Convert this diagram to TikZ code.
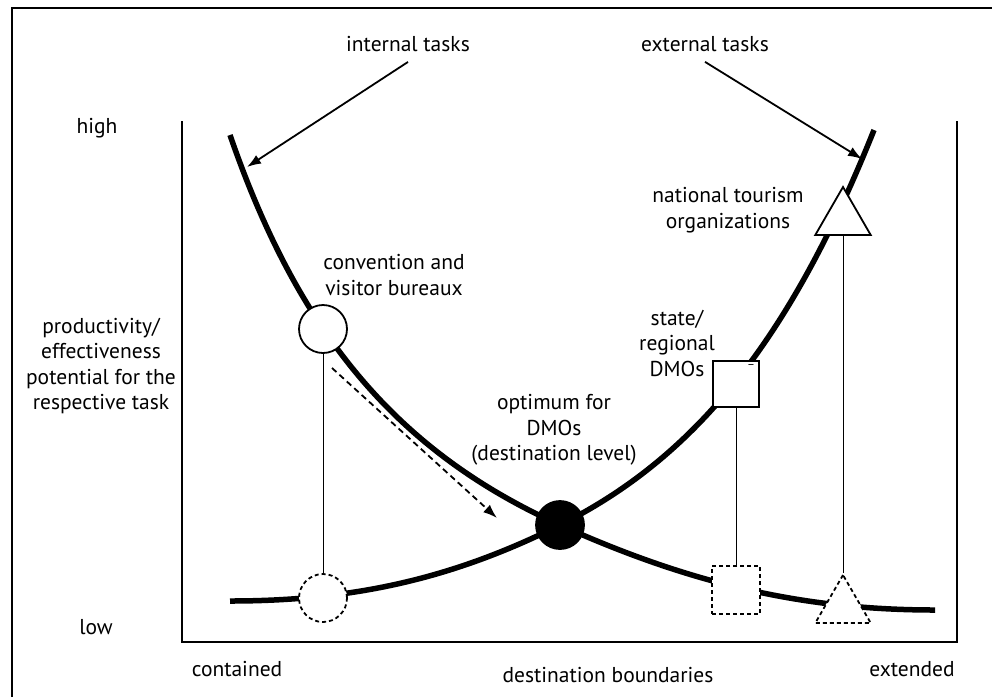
\documentclass[tikz,border=0pt]{standalone}
\usepackage{fontspec}
\setmainfont{PT Sans}
\usetikzlibrary{shapes.geometric,arrows.meta}

\begin{document}
\begin{tikzpicture}[x=1pt, y=-1pt,
    lbl/.style={font=\fontsize{21.5}{25.5}\selectfont, align=center, inner sep=0pt},
    task/.style={lbl, inner ysep=10pt},
    tcurve/.style={line width=5.5pt},
    axisline/.style={line width=2.5pt},
    dot/.style={circle, draw=black, line width=1.8pt, fill=white, minimum size=48pt, inner sep=0pt},
    box/.style={rectangle, draw=black, line width=1.8pt, fill=white, minimum size=46pt, inner sep=0pt},
    tri/.style={regular polygon, regular polygon sides=3, draw=black, line width=1.8pt, fill=white, minimum size=64pt, inner sep=0pt},
    ghost/.style={dash pattern=on 4pt off 3pt},
    link/.style={line width=0.9pt},
    pointer/.style={line width=1.8pt, -{Latex[length=14pt,width=10pt]}}]
  \useasboundingbox (0,0) rectangle (992,697);
  % frame (cut at right and bottom)
  \draw[line width=1.5pt] (12,697) -- (12,8) -- (992,8);
  % axes
  \draw[axisline] (182,121) -- (182,642) -- (957,642) -- (957,121);
  % internal tasks: falling curve
  \draw[tcurve] (230,135) .. controls (299,335) and (398,452) .. (560,525)
                          .. controls (692,584.5) and (805,610) .. (935,610);
  % external tasks: rising curve
  \draw[tcurve] (230,601) .. controls (354.6,601) and (453.6,578.2) .. (560,525)
                          .. controls (696.5,456.75) and (790.7,338.25) .. (874,130);

  % organisations on the curves
  \node[dot] (cvb) at (323,329) {};
  \node[dot, ghost] (cvbLow) at (323,598) {};
  \node[dot, fill=black] (opt) at (560,525) {};
  \node[box] (sdmo) at (736,384) {};
  \node[box, ghost, minimum size=48pt] (sdmoLow) at (736,590) {};
  \node[tri] (nto) at (843,219) {};
  \node[tri, ghost] (ntoLow) at (843,607) {};
  \node[lbl, font=\fontsize{12}{12}\selectfont] (minus) at (751,367) {--};

  \draw[link] (cvb) -- (cvbLow);
  \draw[link] (sdmo) -- (sdmoLow);
  \draw[link] (nto) -- (ntoLow);

  % task labels and arrows
  \node[task] (intl) at (408,44) {internal tasks};
  \node[task] (extl) at (705,44) {external tasks};
  \coordinate (intTip) at (247,167);
  \coordinate (extTip) at (862,159);
  \draw[pointer] (intl.south) -- (intTip);
  \draw[pointer] (extl.south) -- (extTip);

  % shift towards the optimum
  \coordinate (shiftA) at (332,368);
  \coordinate (shiftB) at (497,518);
  \draw[pointer, dash pattern=on 6pt off 4pt] (shiftA) -- (shiftB);

  % axis texts
  \node[lbl] (high) at (97,128) {high};
  \node[lbl] (low) at (96,627) {low};
  \node[lbl] (ylab) at (101,366) {productivity/\\effectiveness\\potential for the\\respective task};
  \node[lbl] (xl) at (237,669) {contained};
  \node[lbl] (xm) at (608,675) {destination boundaries};
  \node[lbl] (xr) at (912,669) {extended};

  % organisation texts
  \node[lbl] (cvbl) at (394,275) {convention and\\visitor bureaux};
  \node[lbl] (optl) at (554,430) {optimum for\\DMOs\\(destination level)};
  \node[lbl] (ntol) at (728,210) {national tourism\\organizations};
  \node[lbl] (sdmol) at (677,343) {state/\\regional\\DMOs};
\end{tikzpicture}
\end{document}
